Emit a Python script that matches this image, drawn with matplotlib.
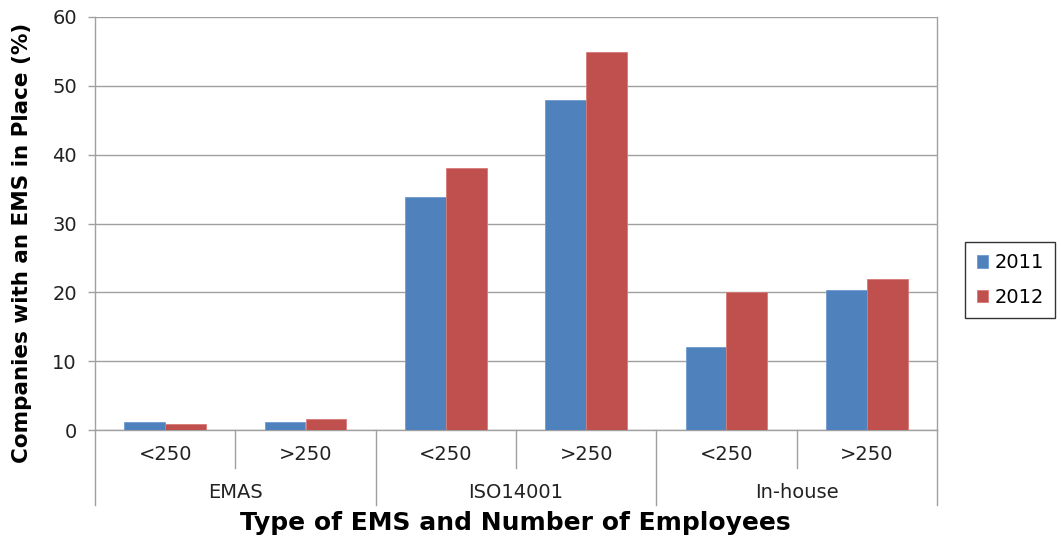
import numpy as np
import matplotlib.pyplot as plt
import matplotlib.transforms as mtransforms

plt.rcParams['font.family'] = ['DejaVu Sans']

groups = ['EMAS', 'ISO14001', 'In-house']
sizes = ['<250', '>250', '<250', '>250', '<250', '>250']
years = ['2011', '2012']
values_2011 = [1.1, 1.2, 33.8, 48.0, 12.0, 20.3]
values_2012 = [0.9, 1.6, 38.1, 54.9, 20.0, 21.9]

blue = '#4f81bd'
red = '#c0504d'
gray = '#a0a0a0'

fig = plt.figure(figsize=(10.61, 5.45), dpi=100)
ax = fig.add_axes([95 / 1061, 115 / 545, 842 / 1061, 413 / 545])

x = np.arange(len(sizes))
w = 0.29
ax.bar(x - w / 2, values_2011, w, color=blue, edgecolor='#6f9ad0', linewidth=0.6, label=years[0], zorder=3)
ax.bar(x + w / 2, values_2012, w, color=red, edgecolor='#d87a78', linewidth=0.6, label=years[1], zorder=3)

ax.set_xlim(-0.5, len(sizes) - 0.5)
ax.set_ylim(0, 60)
ax.set_yticks(range(0, 61, 10))
ax.tick_params(axis='y', labelsize=14, labelcolor='#222222', color=gray, length=5, width=1, pad=8)
ax.set_xticks([])
ax.yaxis.grid(True, color=gray, linewidth=1)
ax.set_axisbelow(True)
for side in ['left', 'right', 'bottom']:
    ax.spines[side].set_color(gray)
    ax.spines[side].set_linewidth(1)
ax.spines['top'].set_visible(False)

# two-level category axis
trans = mtransforms.blended_transform_factory(ax.transData, ax.transAxes)
h = 413
for i in range(1, len(sizes)):
    bottom = -75 / h if i % 2 == 0 else -38 / h
    ax.plot([i - 0.5, i - 0.5], [0, bottom], transform=trans, color=gray, lw=1, clip_on=False)
for xe in [-0.5, len(sizes) - 0.5]:
    ax.plot([xe, xe], [0, -75 / h], transform=trans, color=gray, lw=1, clip_on=False)
for i, s in enumerate(sizes):
    ax.text(i, -25 / h, s, transform=trans, ha='center', va='center', fontsize=14, color='#222222')
for j, g in enumerate(groups):
    ax.text(2 * j + 0.5, -62 / h, g, transform=trans, ha='center', va='center', fontsize=14, color='#222222')

fig.text(515 / 1061, 1 - 523 / 545, 'Type of EMS and Number of Employees',
         ha='center', va='center', fontsize=18, fontweight='bold')
fig.text(22 / 1061, 1 - 243 / 545, 'Companies with an EMS in Place (%)', rotation=90,
         ha='center', va='center', fontsize=15.5, fontweight='bold')

leg = ax.legend(loc='center left', bbox_to_anchor=(965 / 1061, 1 - 280 / 545),
                bbox_transform=fig.transFigure, fontsize=14, frameon=True,
                fancybox=False, handlelength=0.6, handleheight=0.6, handletextpad=0.3,
                labelspacing=0.8, borderpad=0.6, borderaxespad=0)
leg.get_frame().set_edgecolor('black')
leg.get_frame().set_linewidth(1)

fig.savefig('out.png', dpi=100)
